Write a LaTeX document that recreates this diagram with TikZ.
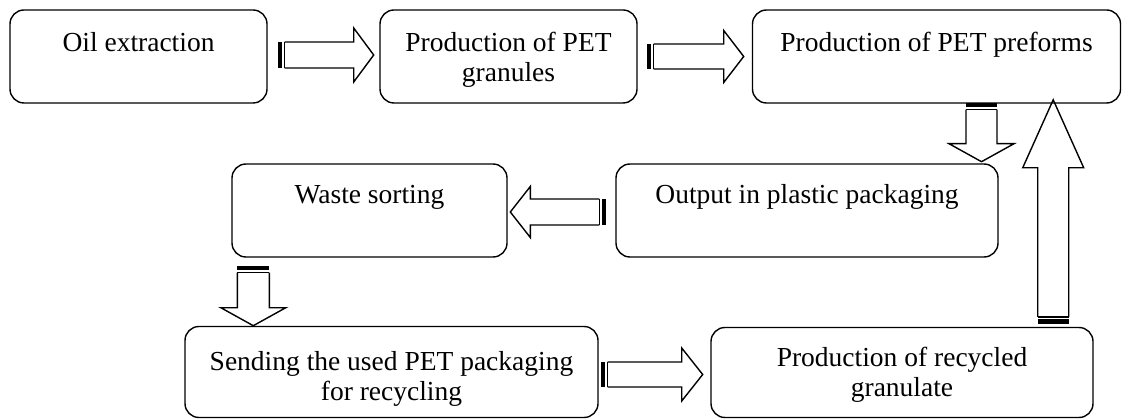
\documentclass[tikz,border=0pt]{standalone}
\usepackage{fontspec}
\setmainfont{Liberation Serif}
\usetikzlibrary{calc}
\tikzset{
  box/.style={draw, line width=1.4pt, rounded corners=14pt, inner sep=0pt},
  txt/.style={inner sep=0pt, align=center, font=\fontsize{27.5}{30}\selectfont, anchor=base},
  pics/sarrow/.style n args={4}{code={
    % #1 length, #2 shaft half width, #3 head half width, #4 head length
    \fill (0,-#2) rectangle (4.5,#2);
    \fill (6,-#2) rectangle (7.5,#2);
    \draw[line width=1.4pt, line join=miter]
      (7,-#2) -- ({#1-#4},-#2) -- ({#1-#4},-#3) -- (#1,0)
      -- ({#1-#4},#3) -- ({#1-#4},#2) -- (7,#2);
  }}
}
\begin{document}
\begin{tikzpicture}[x=1pt,y=-1pt]
\useasboundingbox (0,0) rectangle (1123,419);
% boxes
\node[box, minimum width=257, minimum height=93] (b1) at (138.5,56.5) {};
\node[box, minimum width=257, minimum height=93] (b2) at (508.5,56.5) {};
\node[box, minimum width=368, minimum height=93] (b3) at (936.5,56.5) {};
\node[box, minimum width=275, minimum height=93] (b4) at (369.5,210.5) {};
\node[box, minimum width=382, minimum height=93] (b5) at (807,210.5) {};
\node[box, minimum width=413, minimum height=91] (b6) at (391.5,372) {};
\node[box, minimum width=382, minimum height=90] (b7) at (902,372.5) {};
% texts (base anchor = baseline of last line)
\node[txt] (t1) at ($(b1.north)+(0,42)$) {Oil extraction};
\node[txt] (t2) at ($(b2.north)+(0,72)$) {Production of PET\\granules};
\node[txt] (t3) at ($(b3.north)+(0,42)$) {Production of PET preforms};
\node[txt] (t4) at ($(b4.north)+(0,40)$) {Waste sorting};
\node[txt] (t5) at ($(b5.north)+(0,40)$) {Output in plastic packaging};
\node[txt] (t6) at ($(b6.north)+(0,75)$) {Sending the used PET packaging\\for recycling};
\node[txt] (t7) at ($(b7.north)+(0,70)$) {Production of recycled\\granulate};
% striped block arrows
\pic at ($(b1.east)+(10,-1.5)$) {sarrow={96}{13}{27}{20}};
\pic at ($(b2.east)+(9,0)$) {sarrow={97}{12.5}{26}{20}};
\pic[rotate=-90] at ($(b3.south)+(45,-1)$) {sarrow={59}{15.5}{32.5}{18}};
\pic[rotate=180] at ($(b5.west)+(-9,1.5)$) {sarrow={96}{13}{25.5}{20}};
\pic[rotate=-90] at ($(b4.south west)+(22,8)$) {sarrow={60}{16}{32.5}{18}};
\pic at ($(b6.east)+(2,2.5)$) {sarrow={102}{12.5}{26.5}{21}};
\pic[rotate=90] at ($(b7.north east)+(-40.5,-3)$) {sarrow={224}{15.5}{30.5}{68}};
\end{tikzpicture}
\end{document}
